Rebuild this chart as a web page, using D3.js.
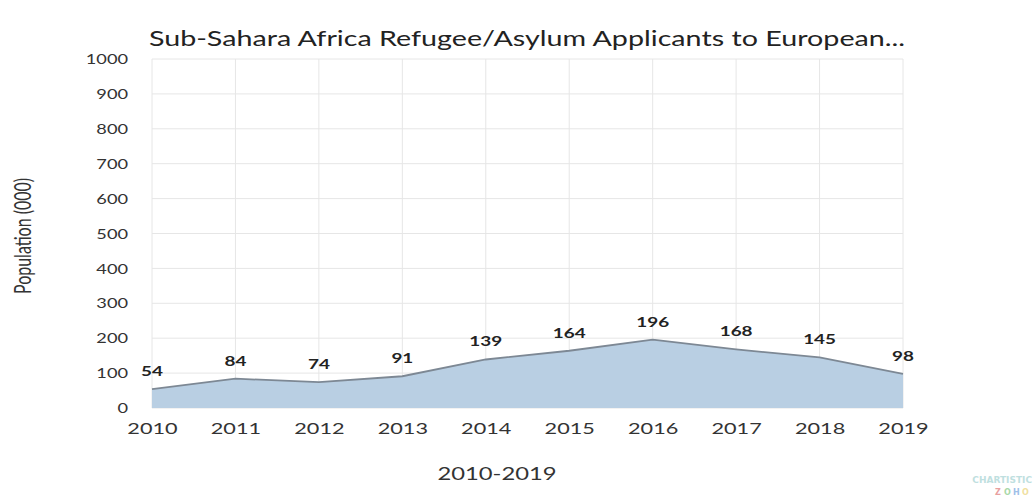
<!DOCTYPE html>
<html><head><meta charset="utf-8">
<script src="https://cdn.jsdelivr.net/npm/d3@7"></script>
<style>body{margin:0;background:#fff;}svg{display:block;}</style>
</head><body>
<svg id="c" width="1035" height="499"></svg>
<script>
const years = [2010,2011,2012,2013,2014,2015,2016,2017,2018,2019];
const values = [54,84,74,91,139,164,196,168,145,98];
const yTicks = [0,100,200,300,400,500,600,700,800,900,1000];
const title = "Sub-Sahara Africa Refugee/Asylum Applicants to European...";
const xTitle = "2010-2019";
const yTitle = "Population (000)";

const SX = 1.4; // horizontal stretch of all text
const svg = d3.select("#c");
const x = d3.scaleLinear().domain([2010,2019]).range([152,903]);
const y = d3.scaleLinear().domain([0,1000]).range([408,59]);

const font = "Lato, 'Open Sans', sans-serif";

// grid
svg.append("g").selectAll("line").data(yTicks).join("line")
  .attr("x1",x(2010)).attr("x2",x(2019)).attr("y1",d=>y(d)).attr("y2",d=>y(d))
  .attr("stroke","#e6e6e6").attr("stroke-width",1);
svg.append("g").selectAll("line").data(years).join("line")
  .attr("x1",d=>x(d)).attr("x2",d=>x(d)).attr("y1",y(0)).attr("y2",y(1000))
  .attr("stroke","#e6e6e6").attr("stroke-width",1);

// area
const data = years.map((yr,i)=>({yr,v:values[i]}));
svg.append("path").datum(data)
  .attr("d", d3.area().x(d=>x(d.yr)).y0(y(0)).y1(d=>y(d.v)))
  .attr("fill","#b9cfe3");
svg.append("path").datum(data)
  .attr("d", d3.line().x(d=>x(d.yr)).y(d=>y(d.v)))
  .attr("fill","none").attr("stroke","#7d8894").attr("stroke-width",1.8);

// y axis
const yAxis = d3.axisLeft(y).tickValues(yTicks).tickFormat(d3.format("d")).tickSize(0).tickPadding(0);
const gy = svg.append("g").attr("transform","translate(128,0)").call(yAxis);
gy.select(".domain").remove();
gy.selectAll("text").attr("x",0).attr("dy","0.36em").attr("transform",`scale(${SX},1)`)
  .attr("font-family",font).attr("font-size",13).attr("fill","#333");

// x axis
const xAxis = d3.axisBottom(x).tickValues(years).tickFormat(d3.format("d")).tickSize(0).tickPadding(0);
const gx = svg.append("g").attr("transform","translate(0,434)").call(xAxis);
gx.select(".domain").remove();
gx.selectAll("text").attr("y",0).attr("dy",0).attr("transform",`scale(${SX},1)`)
  .attr("font-family",font).attr("font-size",15.5).attr("fill","#333");

// data labels
svg.append("g").selectAll("text").data(data).join("text")
  .attr("transform",d=>`translate(${x(d.yr)},${y(d.v)-13}) scale(${SX},1)`)
  .attr("text-anchor","middle").attr("font-family",font).attr("font-weight","bold")
  .attr("font-size",13.5).attr("fill","#222").text(d=>d.v);

// titles
svg.append("text").attr("transform",`translate(527,46) scale(${SX},1)`).attr("text-anchor","middle")
  .attr("font-family",font).attr("font-size",20.5).attr("fill","#222").text(title);
svg.append("text").attr("transform",`translate(497,480) scale(${SX},1)`).attr("text-anchor","middle")
  .attr("font-family",font).attr("font-size",17).attr("fill","#333").text(xTitle);
svg.append("text").attr("transform",`translate(31,236) scale(${SX},1) rotate(-90)`).attr("text-anchor","middle")
  .attr("font-family",font).attr("font-size",16).attr("fill","#333").text(yTitle);

// watermark
svg.append("text").attr("x",1032).attr("y",483).attr("text-anchor","end")
  .attr("font-family","'DejaVu Sans'").attr("font-weight","bold").attr("font-size",9).attr("fill","#bfe0e0").text("CHARTISTIC");
const z = ["Z","O","H","O"], zc=["#e8a0a0","#a8d8a8","#a0c0e8","#f0e0a0"];
svg.append("g").selectAll("text").data(z).join("text")
  .attr("x",(d,i)=>995+i*9).attr("y",495).attr("font-family","'DejaVu Sans'").attr("font-weight","bold")
  .attr("font-size",8).attr("fill",(d,i)=>zc[i]).text(d=>d);
</script>
</body></html>
